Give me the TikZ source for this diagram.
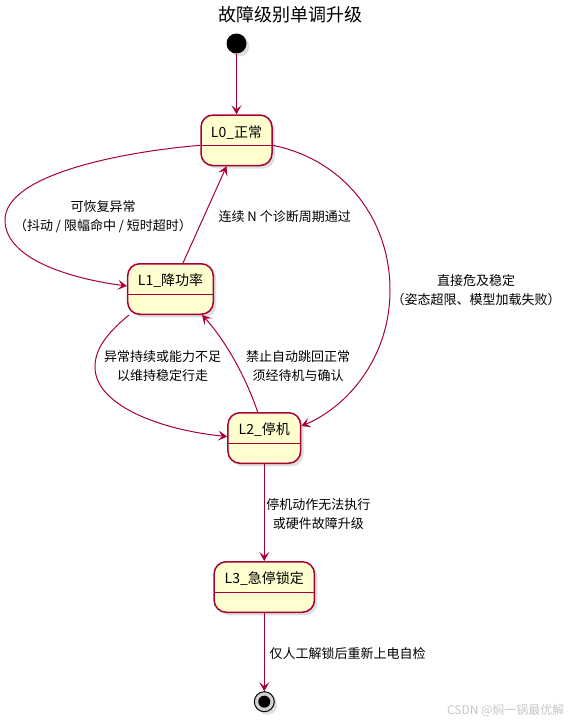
\documentclass[tikz,border=0pt]{standalone}
\usepackage{fontspec}
\setmainfont{Noto Sans CJK SC}
\usetikzlibrary{calc,positioning,arrows.meta,shadows}

\definecolor{umlred}{HTML}{A80036}
\definecolor{umlfill}{HTML}{FEFECE}

\begin{document}
\begin{tikzpicture}[x=1pt,y=-1pt,
    >={Stealth[length=9pt,width=10pt,inset=4pt]},
    trans/.style={umlred,line width=1pt,->},
    lvl/.style={draw=umlred,fill=umlfill,line width=1.5pt,rounded corners=12pt,
      inner sep=0pt,text height=22pt,text depth=28.5pt,minimum width=#1,
      font=\fontsize{14pt}{16pt}\selectfont,
      drop shadow={shadow xshift=3pt,shadow yshift=-3pt,opacity=0.25},
      path picture={\draw[umlred,line width=1.5pt]
        ([yshift=-30.5pt]path picture bounding box.north west) --
        ([yshift=-30.5pt]path picture bounding box.north east);}},
    why/.style={align=center,font=\fontsize{13pt}{19pt}\selectfont}]
 \useasboundingbox (0,0) rectangle (571,722);
 \coordinate (farleft) at (5,220);
 \coordinate (farright) at (390,290);
 \coordinate (lowleft) at (95,367);

    % draw title
    \node[font=\fontsize{18pt}{20pt}\selectfont] (title) at (290,15) {故障级别单调升级};

    % draw start and end
    \node[circle,fill=black,minimum size=20pt,inner sep=0pt,
      drop shadow={shadow xshift=3pt,shadow yshift=-3pt,opacity=0.25}] (start) at (236.5,43.5) {};
    \node[circle,draw=black,fill=gray!35,line width=1pt,minimum size=20pt,inner sep=0pt,
      drop shadow={shadow xshift=3pt,shadow yshift=-3pt,opacity=0.25}] (stop) at (264.3,701.7) {};
    \fill[black] (stop) circle (6);

    % draw levels
    \node[lvl=71pt] (l0) at (236.5,140.3) {L0\_正常};
    \node[lvl=85.6pt] (l1) at (170.5,289) {L1\_降功率};
    \node[lvl=72.7pt] (l2) at (264.3,438) {L2\_停机};
    \node[lvl=100.3pt] (l3) at (264.3,587) {L3\_急停锁定};

    % draw transitions
    \draw[trans] (start) -- (l0);
    \draw[trans] ([yshift=-5pt]l0.west) .. controls (120,152) and (5,175) .. (farleft)
      .. controls (5,262) and (80,280) .. ([yshift=3pt]l1.west);
    \draw[trans] ([xshift=12.5pt]l1.north) -- ([xshift=-10pt]l0.south);
    \draw[trans] ([yshift=-5pt]l0.east) .. controls (345,160) and (390,220) .. (farright)
      .. controls (390,360) and (345,408) .. ([yshift=12pt]l2.east);
    \draw[trans] ([xshift=2pt]l1.south west) .. controls (105,335) and (95,350) .. (lowleft)
      .. controls (95,405) and (160,430) .. ([yshift=1.5pt]l2.west);
    \draw[trans] ([xshift=-6.6pt]l2.north) .. controls (245,375) and (225,340) .. ([xshift=-12pt]l1.south east);
    \draw[trans] (l2) -- (l3);
    \draw[trans] (l3) -- (stop);

    % draw labels
    \node[why] (recover) at (103,216.5) {可恢复异常\\（抖动 / 限幅命中 / 短时超时）};
    \node[why,anchor=west] (pass) at (215,217) {连续 N 个诊断周期通过};
    \node[why] (danger) at (476,290.5) {直接危及稳定\\（姿态超限、模型加载失败）};
    \node[why] (persist) at (162.7,366.2) {异常持续或能力不足\\以维持稳定行走};
    \node[why] (noback) at (298,366.2) {禁止自动跳回正常\\须经待机与确认};
    \node[why] (escalate) at (318.3,514.2) {停机动作无法执行\\或硬件故障升级};
    \node[why,anchor=west] (reset) at (266,653.3) {仅人工解锁后重新上电自检};
    \node[gray!45,font=\fontsize{12pt}{14pt}\selectfont,anchor=east] (mark) at (568,710.7) {CSDN @焖一锅最优解};

\end{tikzpicture}
\end{document}
